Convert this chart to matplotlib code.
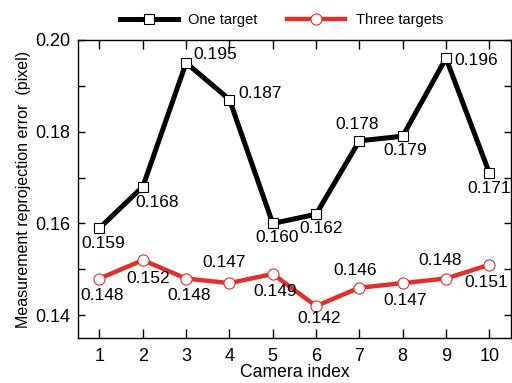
import numpy as np
import matplotlib
matplotlib.use("Agg")
import matplotlib.pyplot as plt
from matplotlib.ticker import MultipleLocator

plt.rcParams['font.family'] = ['Liberation Sans', 'DejaVu Sans']

cameras = [1, 2, 3, 4, 5, 6, 7, 8, 9, 10]
one_target = [0.159, 0.168, 0.195, 0.187, 0.160, 0.162, 0.178, 0.179, 0.196, 0.171]
three_targets = [0.148, 0.152, 0.148, 0.147, 0.149, 0.142, 0.146, 0.147, 0.148, 0.151]

# label offsets in points (dx, dy, ha), picked by eye
off_one = [(3, -11, 'center'), (10, -11.5, 'center'), (5, 6, 'left'), (6.5, 4, 'left'),
           (3, -10, 'center'), (4, -10, 'center'), (-1.5, 11.5, 'center'), (2, -10, 'center'),
           (6, -2, 'left'), (0, -11.5, 'center')]
off_three = [(2, -12.5, 'center'), (4, -13, 'center'), (2, -12.5, 'center'), (-4, 14.5, 'center'),
             (2, -13, 'center'), (2, -9, 'center'), (-3, 12.5, 'center'), (2, -12.5, 'center'),
             (-4, 13, 'center'), (-2, -12.5, 'center')]

fig = plt.figure(figsize=(5.12, 3.83), dpi=100)
ax = fig.add_axes([0.152, 0.117, 0.846, 0.779])

ax.plot(cameras, one_target, color='black', lw=3.6, marker='s', ms=7.5,
        mfc='white', mec='black', mew=0.8, label='One target', zorder=3)
ax.plot(cameras, three_targets, color='#e0302a', lw=3.2, marker='o', ms=8,
        mfc='white', mec='#e0302a', mew=0.8, label='Three targets', zorder=3)

for x, y, (dx, dy, ha) in zip(cameras, one_target, off_one):
    ax.annotate('%.3f' % y, (x, y), xytext=(dx, dy), textcoords='offset points',
                ha=ha, va='center', fontsize=12.5)
for x, y, (dx, dy, ha) in zip(cameras, three_targets, off_three):
    ax.annotate('%.3f' % y, (x, y), xytext=(dx, dy), textcoords='offset points',
                ha=ha, va='center', fontsize=12.5)

ax.set_xlim(0.5, 10.5)
ax.set_ylim(0.135, 0.20)
ax.set_xticks(cameras)
ax.set_yticks([0.14, 0.16, 0.18, 0.20])
ax.yaxis.set_minor_locator(MultipleLocator(0.01))
ax.tick_params(which='both', direction='in', top=True, right=True, width=1, labelsize=13)
ax.tick_params(axis='x', length=6.5, pad=7)
ax.tick_params(axis='y', which='both', length=5, pad=5.5)
for s in ax.spines.values():
    s.set_linewidth(1)

ax.set_xlabel('Camera index', fontsize=12.7, labelpad=-1)
ax.set_ylabel('Measurement reprojection error  (pixel)', fontsize=11.5, labelpad=3)

ax.legend(loc='lower center', bbox_to_anchor=(0.47, 1.0), ncol=2, frameon=False,
          fontsize=10.5, handlelength=4.0, columnspacing=2.0, handletextpad=0.7)

fig.savefig('out.png', dpi=100)
